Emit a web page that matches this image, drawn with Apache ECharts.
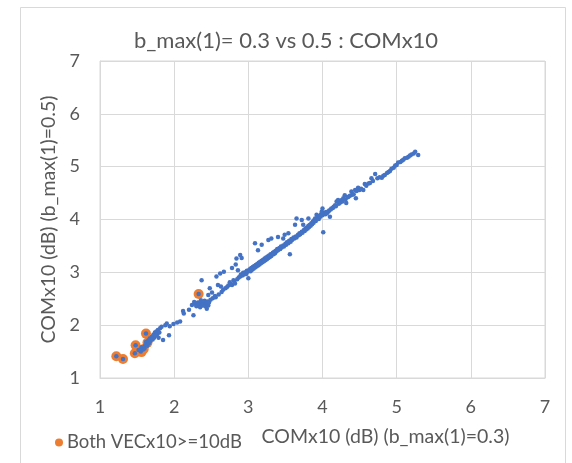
<!DOCTYPE html>
<html>
<head>
<meta charset="utf-8">
<script src="https://cdn.jsdelivr.net/npm/echarts@6/dist/echarts.min.js"></script>
<style>html,body{margin:0;padding:0;background:#fff}#c{width:572px;height:463px}</style>
</head>
<body>
<div id="c"></div>
<script>
const titleText = 'b_max(1)= 0.3 vs 0.5 : COMx10';
const xName = 'COMx10 (dB) (b_max(1)=0.3)';
const yName = 'COMx10 (dB) (b_max(1)=0.5)';
const legendName = 'Both VECx10>=10dB';
const axisTicks = [1, 2, 3, 4, 5, 6, 7];

const lowPoints = [
[1.22,1.41],[1.31,1.36],[1.47,1.47],[1.48,1.62],[1.52,1.53],[1.55,1.50],[1.56,1.58],[1.58,1.54],[1.60,1.56],[1.61,1.62],
[1.62,1.84],[1.62,1.68],[1.64,1.61],[1.65,1.71],[1.66,1.66],[1.67,1.75],[1.68,1.70],[1.70,1.78],[1.71,1.73],[1.72,1.82],
[1.73,1.76],[1.74,1.86],[1.75,1.80],[1.76,1.88],[1.77,1.83],[1.78,1.91],[1.79,1.76],[1.80,1.86],[1.81,1.94],[1.83,1.97],
[1.85,1.72],[1.88,2.00],[1.90,2.03],[1.93,1.81],[1.94,1.98],[1.99,2.02],[2.04,2.05],[2.08,2.07]
];
const midPoints = [
[2.12,2.27],[2.13,2.22],[2.20,2.29],[2.24,2.38],[2.26,2.19],[2.27,2.44],[2.29,2.40],[2.30,2.36],[2.32,2.43],[2.33,2.59],
[2.34,2.38],[2.35,2.34],[2.36,2.47],[2.37,2.85],[2.37,2.41],[2.38,2.37],[2.39,2.44],[2.40,2.40],[2.41,2.46],[2.42,2.36],
[2.43,2.42],[2.44,2.31],[2.45,2.45],[2.46,2.57],[2.46,2.37],[2.47,2.43],[2.48,2.70],[2.49,2.48],[2.51,2.62],[2.52,2.51],
[2.55,2.55],[2.56,2.53],[2.57,2.92],[2.59,2.76],[2.60,2.58],[2.62,2.98],[2.63,2.73],[2.64,2.63],[2.66,2.67],[2.67,3.01],
[2.69,2.70],[2.71,2.72],[2.73,2.75],[2.75,2.81],[2.76,2.77],[2.78,2.76],[2.78,3.08],[2.80,2.85],[2.81,2.82],[2.82,2.79],
[2.83,3.15],[2.84,3.26],[2.85,2.87],[2.86,3.04],[2.87,2.90],[2.89,3.33],[2.89,2.92],[2.90,2.96],[2.91,3.27],[2.92,2.94],
[2.93,2.99],[2.94,2.96],[2.96,3.00],[2.97,2.97],[2.98,3.03],[2.99,3.01],[3.00,2.89]
];
const bandPoints = [
[3.01,3.04],[3.02,3.06],[3.03,3.02],[3.04,3.08],[3.05,3.05],[3.06,3.10],[3.07,3.07],[3.08,3.12],[3.09,3.55],[3.09,3.09],
[3.10,3.14],[3.11,3.11],[3.12,3.16],[3.13,3.42],[3.13,3.13],[3.14,3.18],[3.15,3.15],[3.16,3.20],[3.17,3.17],[3.18,3.52],
[3.18,3.22],[3.19,3.19],[3.20,3.24],[3.21,3.21],[3.22,3.26],[3.23,3.23],[3.24,3.28],[3.25,3.25],[3.26,3.30],[3.27,3.61],
[3.27,3.27],[3.28,3.32],[3.29,3.29],[3.30,3.34],[3.31,3.64],[3.31,3.33],[3.31,3.31],[3.33,3.37],[3.34,3.34],[3.35,3.39],
[3.36,3.36],[3.37,3.41],[3.38,3.40],[3.39,3.44],[3.40,3.67],[3.40,3.42],[3.42,3.46],[3.43,3.44],[3.44,3.49],[3.45,3.47],
[3.47,3.64],[3.47,3.51],[3.48,3.49],[3.49,3.71],[3.50,3.54],
[3.51,3.52],[3.52,3.57],[3.54,3.74],[3.54,3.55],[3.55,3.60],[3.56,3.34],[3.57,3.58],[3.58,3.63],[3.59,3.61],[3.61,3.66],
[3.62,3.64],[3.63,3.90],[3.64,3.68],[3.65,4.02],[3.65,3.66],[3.67,3.71],[3.68,3.70],[3.69,3.74],[3.70,3.72],[3.72,3.99],
[3.72,3.77],[3.73,3.75],[3.74,3.90],[3.75,3.80],[3.76,3.78],[3.77,3.83],[3.78,3.81],[3.79,3.85],[3.80,3.83],[3.81,4.02],
[3.81,3.88],[3.82,3.86],[3.83,3.90],[3.84,3.88],[3.85,3.93],[3.86,3.91],[3.87,3.96],[3.88,3.94],[3.89,3.99],[3.90,4.02],
[3.91,3.97],[3.92,4.09],[3.93,4.03],[3.94,4.06],[3.95,4.01],[3.96,4.07],[3.97,4.05],[3.98,4.10],[3.99,4.15],[4.00,4.21],
[4.00,4.08],[4.01,3.76]
];
const highPoints = [
[4.02,4.11],[4.03,4.13],[4.04,4.10],[4.05,4.14],[4.06,4.12],[4.08,4.15],[4.09,4.17],[4.10,4.05],[4.11,4.19],[4.12,4.21],
[4.14,4.22],[4.15,4.24],[4.17,4.27],[4.18,4.25],[4.19,4.34],[4.21,4.37],[4.22,4.30],[4.24,4.32],[4.26,4.37],[4.27,4.34],
[4.28,4.40],[4.30,4.46],[4.31,4.38],[4.32,4.31],[4.34,4.42],[4.35,4.43],[4.37,4.45],[4.39,4.53],[4.40,4.47],[4.42,4.48],
[4.44,4.56],[4.45,4.40],[4.46,4.54],[4.48,4.60],[4.50,4.56],[4.52,4.58],[4.55,4.56],[4.57,4.67],[4.59,4.64],[4.62,4.68],
[4.64,4.69],[4.66,4.78],[4.68,4.73],[4.71,4.86],[4.74,4.78],[4.77,4.80],[4.80,4.79],[4.82,4.83],[4.84,4.84],[4.87,4.88],
[4.89,4.90],[4.91,4.92],[4.93,4.96],[4.96,4.98],[4.98,5.02],[5.00,5.03],[5.02,5.08],[5.05,5.09],[5.07,5.11],[5.09,5.13],
[5.11,5.16],[5.14,5.17],[5.16,5.19],[5.18,5.21],[5.20,5.23],[5.23,5.25],[5.25,5.28],[5.29,5.22]
];
const bothVecPoints = [
[1.22,1.41],[1.31,1.36],[1.47,1.47],[1.48,1.62],[1.56,1.49],[1.59,1.55],[1.62,1.84],[1.64,1.67],[2.33,2.59]
];

const allBlue = lowPoints.concat(midPoints, bandPoints, highPoints);
const FONT = 'Lato, "Open Sans", sans-serif';
const TXT = '#595959';
const GRIDC = '#D9D9D9';

const chart = echarts.init(document.getElementById('c'), null, {renderer: 'canvas'});
chart.setOption({
  animation: false,
  backgroundColor: '#fff',
  title: {
    text: titleText, left: 'center', top: 25,
    textStyle: {fontFamily: FONT, fontSize: 22, fontWeight: 'normal', color: TXT}
  },
  legend: {
    data: [legendName], left: 50, top: 428, itemWidth: 8, itemHeight: 8, itemGap: 5,
    icon: 'circle',
    textStyle: {fontFamily: FONT, fontSize: 18.5, color: TXT, padding: [0,0,0,-1]}
  },
  graphic: [{
    type: 'rect', silent: true, z: -1,
    shape: {x: 20.5, y: 7.5, width: 545, height: 470},
    style: {fill: 'none', stroke: GRIDC, lineWidth: 1}
  }],
  grid: {left: 100, right: 27, top: 61, bottom: 85, show: true, borderColor: GRIDC, borderWidth: 1},
  xAxis: {
    type: 'value', min: axisTicks[0], max: axisTicks[axisTicks.length-1], interval: 1,
    name: xName, nameLocation: 'middle', nameGap: 49,
    nameTextStyle: {fontFamily: FONT, fontSize: 19.5, color: TXT, padding: [0,0,0,126]},
    axisLine: {show: true, lineStyle: {color: GRIDC}},
    axisTick: {show: false},
    axisLabel: {fontFamily: FONT, fontSize: 18, color: TXT, margin: 20},
    splitLine: {show: true, lineStyle: {color: GRIDC}}
  },
  yAxis: {
    type: 'value', min: axisTicks[0], max: axisTicks[axisTicks.length-1], interval: 1,
    name: yName, nameLocation: 'middle', nameGap: 33,
    nameTextStyle: {fontFamily: FONT, fontSize: 19.5, color: TXT},
    axisLine: {show: true, lineStyle: {color: GRIDC}},
    axisTick: {show: false},
    axisLabel: {fontFamily: FONT, fontSize: 18, color: TXT, margin: 20},
    splitLine: {show: true, lineStyle: {color: GRIDC}}
  },
  series: [
    {
      name: legendName, type: 'scatter', data: bothVecPoints, symbolSize: 10, z: 2,
      itemStyle: {color: '#ED7D31', opacity: 1}
    },
    {
      name: 'All', type: 'scatter', data: allBlue, symbolSize: 4.5, z: 3,
      itemStyle: {color: '#4472C4', opacity: 1}
    }
  ]
});
</script>
</body>
</html>
